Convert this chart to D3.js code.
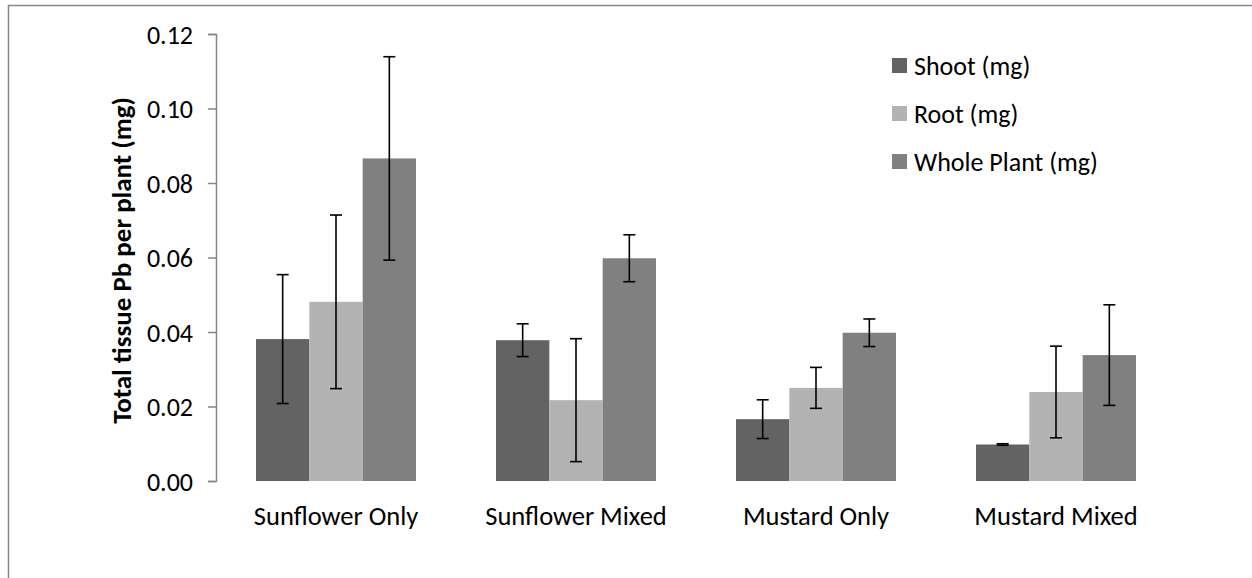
<!DOCTYPE html>
<html>
<head>
<meta charset="utf-8">
<script src="https://cdn.jsdelivr.net/npm/d3@7"></script>
<style>
  body { margin: 0; background: #fff; }
  text { font-family: Carlito, Lato, "Open Sans", sans-serif; fill: #000; }
  .axis path, .axis line { stroke: #868686; stroke-width: 1.5px; }
</style>
</head>
<body>
<div id="chart"></div>
<script>
var categories = ["Sunflower Only", "Sunflower Mixed", "Mustard Only", "Mustard Mixed"];
var seriesNames = ["Shoot (mg)", "Root (mg)", "Whole Plant (mg)"];
var seriesColors = ["#636363", "#b3b3b3", "#808080"];

// means, per series, in category order
var shoot = [0.0381, 0.0378, 0.0166, 0.0098];
var root = [0.0481, 0.0217, 0.0250, 0.0239];
var whole = [0.0866, 0.0598, 0.0398, 0.0338];

// error bar half-widths
var shootErr = [0.0173, 0.0044, 0.0052, 0.0002];
var rootErr = [0.0233, 0.0165, 0.0055, 0.0123];
var wholeErr = [0.0273, 0.0063, 0.0037, 0.0135];

var yTicks = [0, 0.02, 0.04, 0.06, 0.08, 0.10, 0.12];

var values = [shoot, root, whole];
var errs = [shootErr, rootErr, wholeErr];

var W = 1252, H = 578;
var margin = {top: 34, right: 76, bottom: 97, left: 216},
    width = W - margin.left - margin.right,
    height = H - margin.top - margin.bottom;

var svg = d3.select("#chart").append("svg")
    .attr("width", W)
    .attr("height", H);

// chart area border (runs off the right and bottom edge)
svg.append("rect")
    .attr("x", 8.5).attr("y", 5.5)
    .attr("width", W + 20).attr("height", H + 20)
    .attr("fill", "none")
    .attr("stroke", "#868686")
    .attr("stroke-width", 1.5);

var g = svg.append("g")
    .attr("transform", "translate(" + margin.left + "," + margin.top + ")");

var x0 = d3.scaleBand()
    .domain(categories)
    .range([0, width])
    .paddingInner(1/3)
    .paddingOuter(1/6);

var x1 = d3.scaleBand()
    .domain(seriesNames)
    .range([0, x0.bandwidth()]);

var y = d3.scaleLinear()
    .domain([0, 0.12])
    .range([height, 0]);

var data = [];
categories.forEach(function(c, i){
  seriesNames.forEach(function(s, j){
    data.push({cat: c, series: s, idx: j, value: values[j][i], err: errs[j][i]});
  });
});

// y axis
var yAxis = g.append("g")
    .attr("class", "axis")
    .call(d3.axisLeft(y).tickValues(yTicks).tickSize(8).tickSizeOuter(8)
      .tickFormat(d3.format(".2f")));
yAxis.selectAll("text")
    .attr("font-size", "26px")
    .attr("x", -23)
    .attr("dy", "0.36em");

g.selectAll(".bar")
    .data(data)
  .enter().append("rect")
    .attr("class", "bar")
    .attr("x", function(d){ return x0(d.cat) + x1(d.series); })
    .attr("width", x1.bandwidth())
    .attr("y", function(d){ return y(d.value); })
    .attr("height", function(d){ return height - y(d.value); })
    .attr("fill", function(d){ return seriesColors[d.idx]; });

var cap = 6;
var eb = g.selectAll(".err")
    .data(data)
  .enter().append("g")
    .attr("class", "err")
    .attr("stroke", "#000")
    .attr("stroke-width", 1.6);

function cx(d){ return x0(d.cat) + x1(d.series) + x1.bandwidth() / 2; }

eb.append("line")
    .attr("x1", cx).attr("x2", cx)
    .attr("y1", function(d){ return y(d.value + d.err); })
    .attr("y2", function(d){ return y(d.value - d.err); });
eb.append("line")
    .attr("x1", function(d){ return cx(d) - cap; })
    .attr("x2", function(d){ return cx(d) + cap; })
    .attr("y1", function(d){ return y(d.value + d.err); })
    .attr("y2", function(d){ return y(d.value + d.err); });
eb.append("line")
    .attr("x1", function(d){ return cx(d) - cap; })
    .attr("x2", function(d){ return cx(d) + cap; })
    .attr("y1", function(d){ return y(d.value - d.err); })
    .attr("y2", function(d){ return y(d.value - d.err); });

// category labels
g.selectAll(".catLabel")
    .data(categories)
  .enter().append("text")
    .attr("class", "catLabel")
    .attr("x", function(d){ return x0(d) + x0.bandwidth() / 2; })
    .attr("y", height + 44)
    .attr("text-anchor", "middle")
    .attr("font-size", "26.5px")
    .text(function(d){ return d; });

// y title
g.append("text")
    .attr("transform", "translate(-85," + (height / 2 + 3) + ") rotate(-90)")
    .attr("text-anchor", "middle")
    .attr("font-size", "27px")
    .attr("font-weight", "bold")
    .text("Total tissue Pb per plant (mg)");

// legend
var legend = svg.selectAll(".legend")
    .data(seriesNames)
  .enter().append("g")
    .attr("class", "legend")
    .attr("transform", function(d, i){ return "translate(892," + (58 + i * 48) + ")"; });
legend.append("rect")
    .attr("width", 15).attr("height", 15)
    .attr("fill", function(d, i){ return seriesColors[i]; });
legend.append("text")
    .attr("x", 22)
    .attr("y", 7.5)
    .attr("dy", "0.36em")
    .attr("font-size", "26px")
    .text(function(d){ return d; });
</script>
</body>
</html>
